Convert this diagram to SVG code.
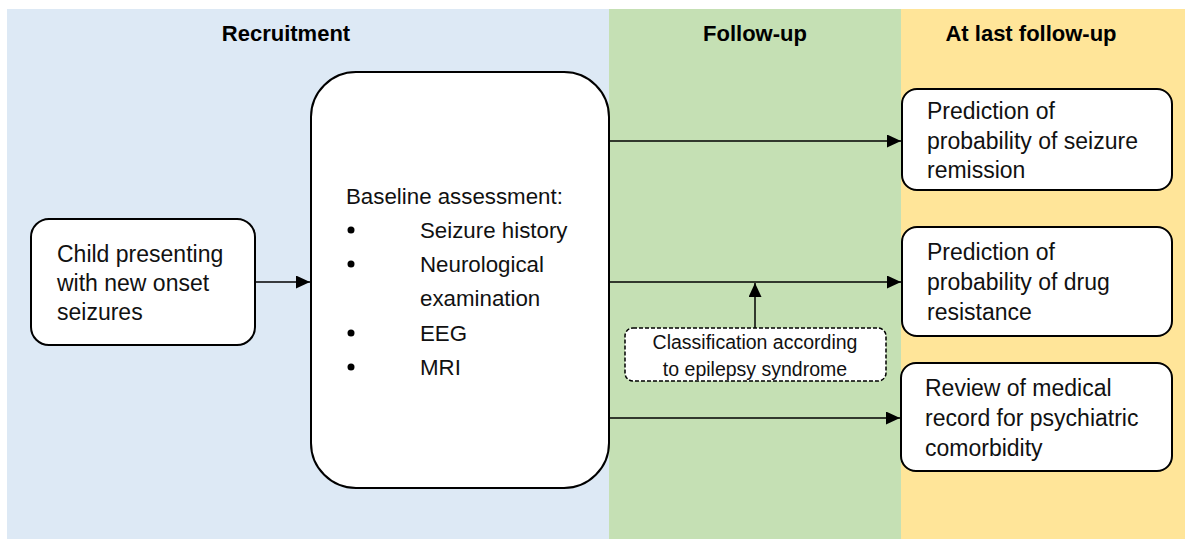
<svg xmlns="http://www.w3.org/2000/svg" width="1185" height="539" viewBox="0 0 1185 539">
<defs>
<style>
.t{font-family:"Liberation Sans",Arial,sans-serif;font-size:23px;fill:#111}
.b{font-family:"Liberation Sans",Arial,sans-serif;font-size:22.3px;fill:#111}
.h{font-family:"Liberation Sans",Arial,sans-serif;font-size:22px;font-weight:bold;fill:#000;text-anchor:middle}
.s{font-family:"Liberation Sans",Arial,sans-serif;font-size:19.5px;fill:#111;text-anchor:middle}
.box{fill:#fff;stroke:#000;stroke-width:2}
.dash{fill:#fff;stroke:#000;stroke-width:1.5;stroke-dasharray:4 2}
.c{stroke:#000;stroke-width:1.5;fill:none;marker-end:url(#ah)}
</style>
<marker id="ah" viewBox="0 0 10 10" refX="10" refY="5" markerWidth="14" markerHeight="13" markerUnits="userSpaceOnUse" orient="auto" preserveAspectRatio="none">
<path d="M0,0 L10,5 L0,10 z" fill="#000"/>
</marker>
</defs>
<rect width="1185" height="539" fill="#fff"/>
<g id="panels">
<rect x="7" y="9" width="602" height="530" fill="#dde9f5"/>
<rect x="609" y="9" width="292" height="530" fill="#c5e0b4"/>
<rect x="901" y="9" width="284" height="530" fill="#ffe599"/>
<text class="h" x="286" y="41">Recruitment</text>
<text class="h" x="755" y="41">Follow-up</text>
<text class="h" x="1031" y="41">At last follow-up</text>
</g>
<g id="connectors">
<line class="c" x1="256" y1="282" x2="310" y2="282"/>
<line class="c" x1="609" y1="141" x2="901" y2="141"/>
<line class="c" x1="609" y1="282" x2="901" y2="282"/>
<line class="c" x1="609" y1="418" x2="900" y2="418"/>
<line class="c" x1="755" y1="328" x2="755" y2="283"/>
</g>
<g id="child">
<rect class="box" x="31" y="219" width="224" height="126" rx="18"/>
<text class="t" x="57" y="262">Child presenting</text>
<text class="t" x="57" y="291">with new onset</text>
<text class="t" x="57" y="320">seizures</text>
</g>
<g id="baseline">
<rect class="box" x="311" y="72" width="298" height="416" rx="45"/>
<text class="b" x="346" y="204">Baseline assessment:</text>
<circle cx="351" cy="230" r="3.5" fill="#000"/>
<text class="b" x="420" y="238">Seizure history</text>
<circle cx="351" cy="264" r="3.5" fill="#000"/>
<text class="b" x="420" y="272">Neurological</text>
<text class="b" x="420" y="306">examination</text>
<circle cx="351" cy="333" r="3.5" fill="#000"/>
<text class="b" x="420" y="341">EEG</text>
<circle cx="351" cy="367" r="3.5" fill="#000"/>
<text class="b" x="420" y="375">MRI</text>
</g>
<g id="classification">
<rect class="dash" x="625" y="328" width="261" height="53" rx="8"/>
<text class="s" x="755" y="349">Classification according</text>
<text class="s" x="755" y="376">to epilepsy syndrome</text>
</g>
<g id="remission">
<rect class="box" x="902" y="89" width="270" height="101" rx="15"/>
<text class="t" x="927" y="119">Prediction of</text>
<text class="t" x="927" y="149">probability of seizure</text>
<text class="t" x="927" y="178">remission</text>
</g>
<g id="resistance">
<rect class="box" x="902" y="227" width="270" height="109" rx="15"/>
<text class="t" x="927" y="260">Prediction of</text>
<text class="t" x="927" y="290">probability of drug</text>
<text class="t" x="927" y="320">resistance</text>
</g>
<g id="review">
<rect class="box" x="901" y="363" width="271" height="108" rx="15"/>
<text class="t" x="925" y="396">Review of medical</text>
<text class="t" x="925" y="426">record for psychiatric</text>
<text class="t" x="925" y="456">comorbidity</text>
</g>
</svg>
